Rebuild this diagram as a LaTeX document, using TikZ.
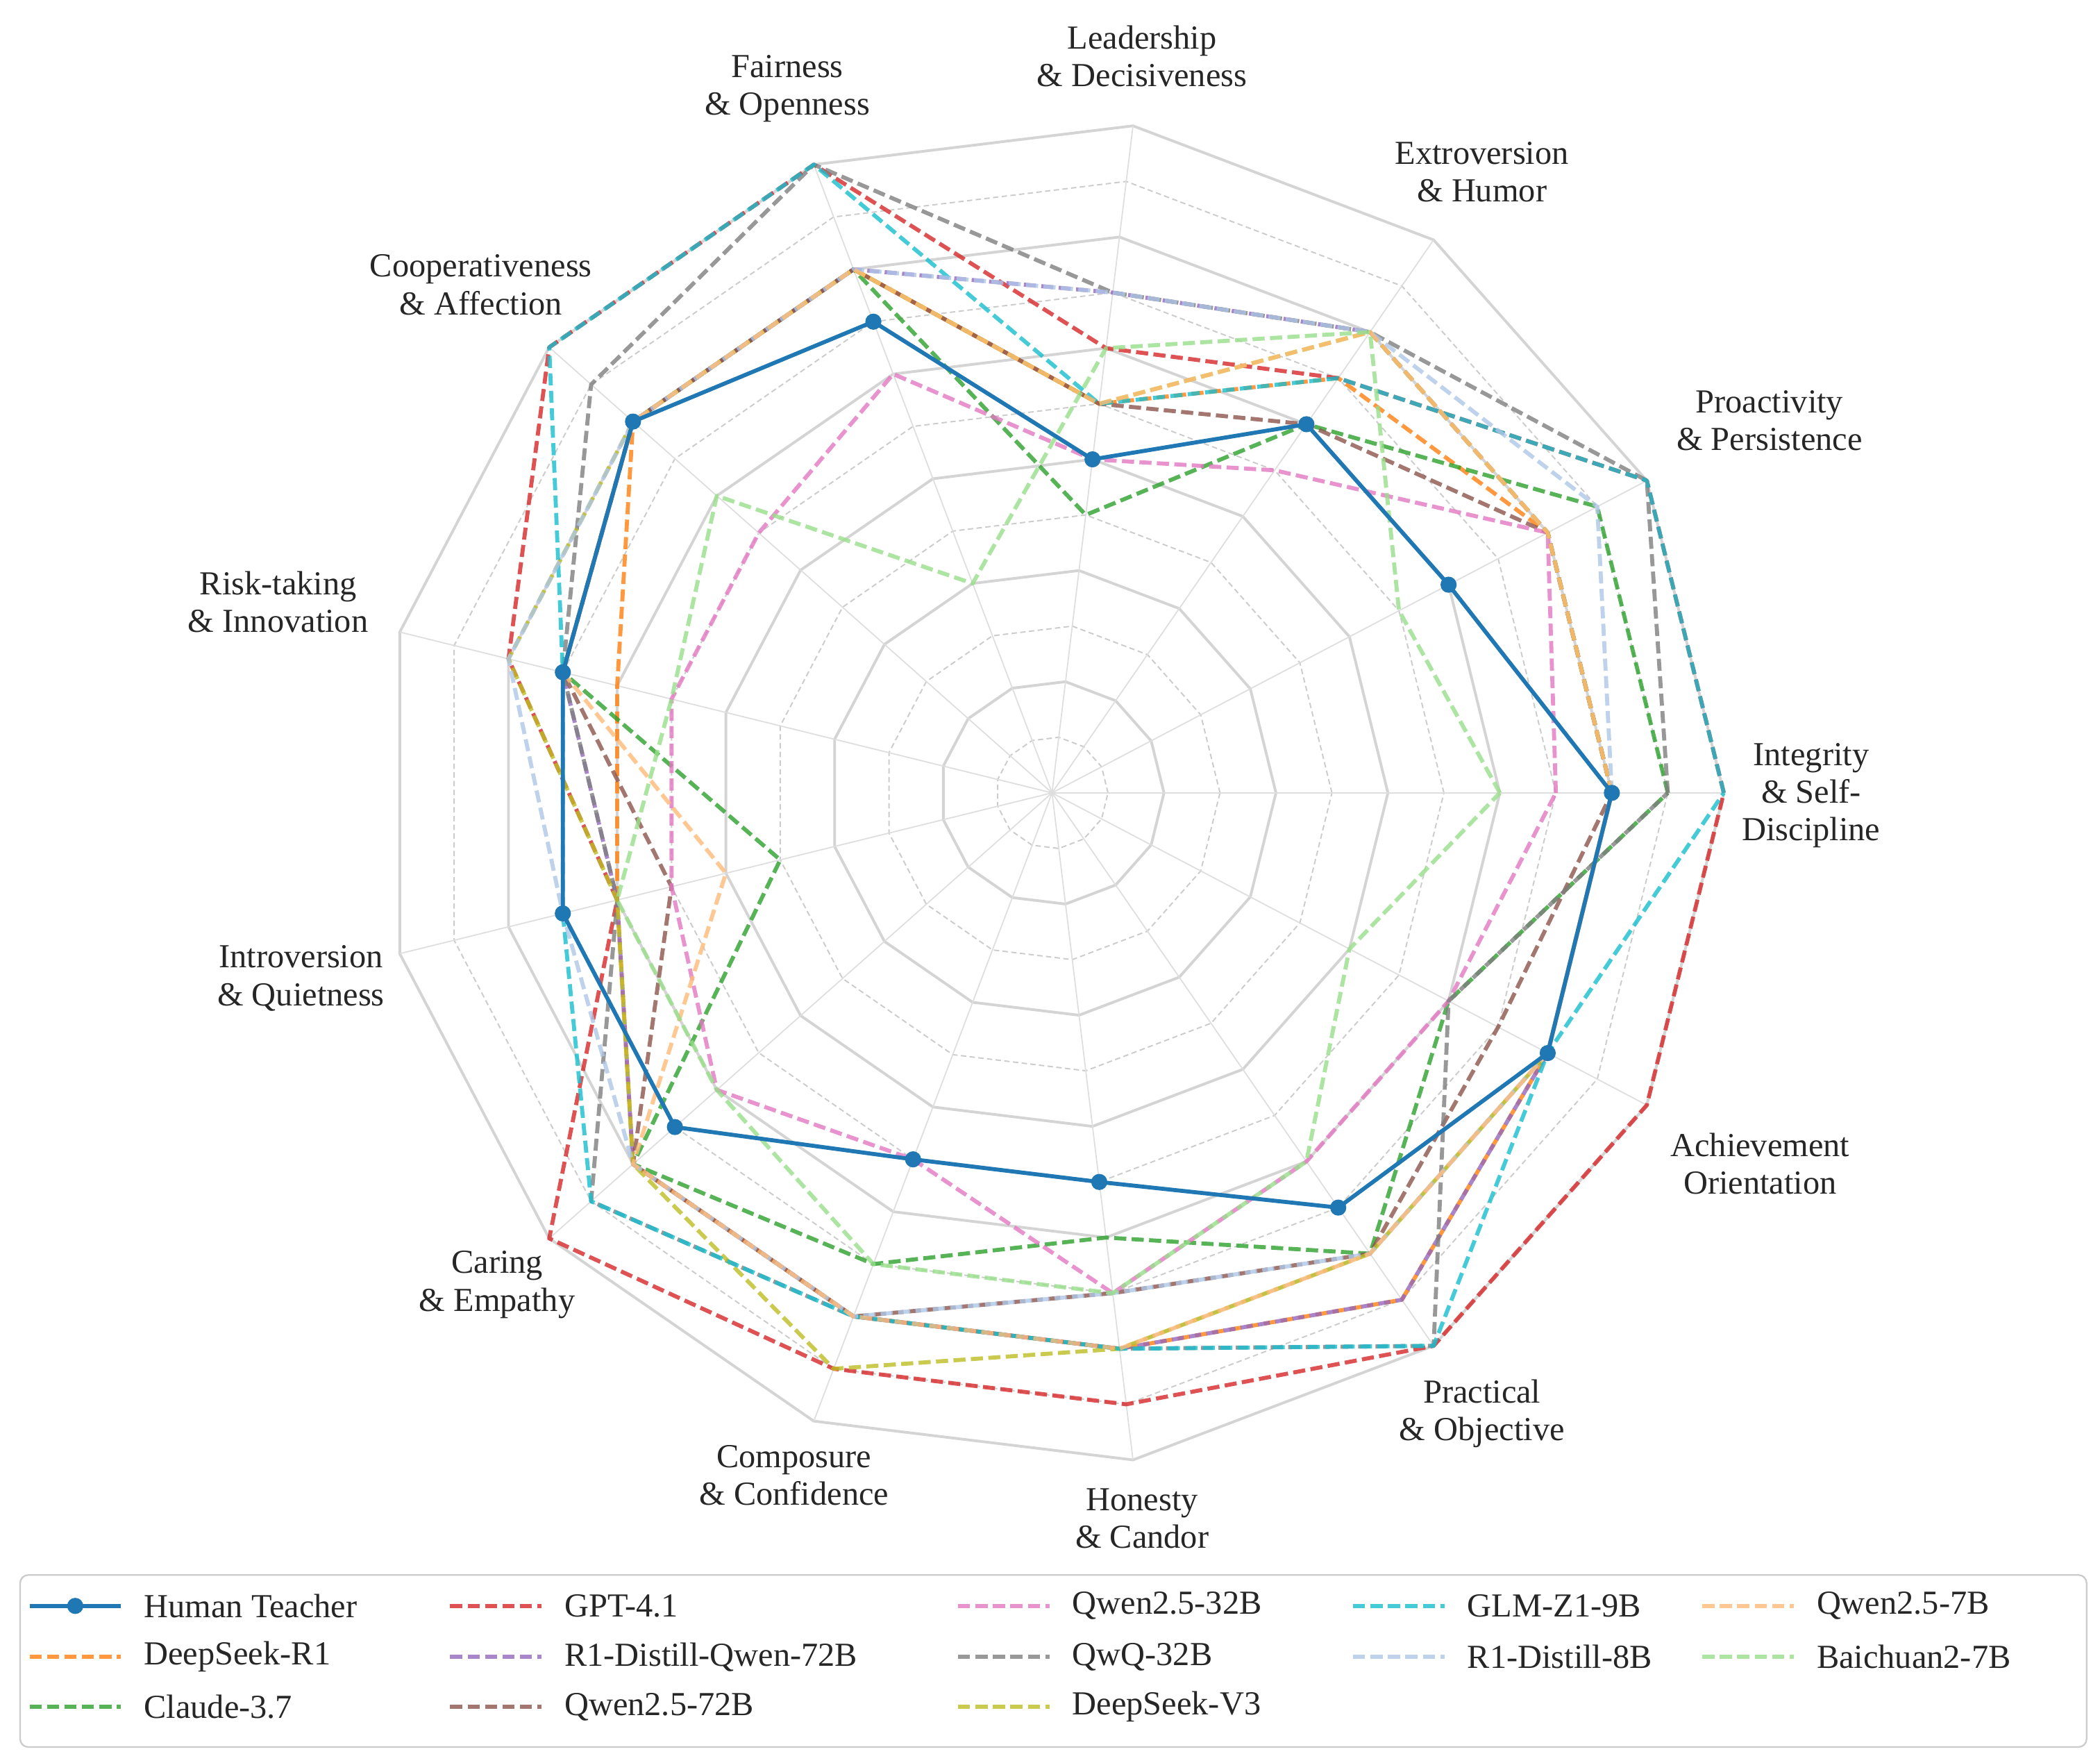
\documentclass[tikz,border=0pt]{standalone}
\usepackage{fontspec}
\setmainfont{Liberation Serif}
\definecolor{cHum}{HTML}{1F77B4}
\definecolor{cDSR}{HTML}{FF7F0E}
\definecolor{cCla}{HTML}{2CA02C}
\definecolor{cGPT}{HTML}{D62728}
\definecolor{cR72}{HTML}{9467BD}
\definecolor{cQ72}{HTML}{8C564B}
\definecolor{cQ32}{HTML}{E377C2}
\definecolor{cQwQ}{HTML}{7F7F7F}
\definecolor{cDV3}{HTML}{BCBD22}
\definecolor{cGLM}{HTML}{17BECF}
\definecolor{cR8}{HTML}{AEC7E8}
\definecolor{cQ7}{HTML}{FFBB78}
\definecolor{cBai}{HTML}{98DF8A}
\definecolor{txt}{HTML}{262626}
\tikzset{
  ser/.style={line width=3pt, dash pattern=on 9pt off 4pt, opacity=0.8, line join=round},
  hum/.style={line width=3pt, color=cHum, line join=round},
  ringsolid/.style={draw=black!17, line width=2pt},
  ringdash/.style={draw=black!20, line width=1pt, dash pattern=on 4pt off 2.5pt},
  spoke/.style={draw=black!13, line width=0.9pt},
  lab/.style={font=\fontsize{25}{28}\selectfont, text=txt, align=center, inner sep=0pt},
  legtxt/.style={font=\fontsize{25}{28}\selectfont, text=txt, anchor=west, inner sep=0pt},
  dot/.style={circle, fill=cHum, inner sep=0pt, minimum size=12pt}
}
\newcommand\drawseries[3]{%
  \foreach \v [count=\i from 0] in {#3} {\coordinate (#1-\i) at ({\i*360/13}:{\v*500/12});}
  \draw[#2] (#1-0) -- (#1-1) -- (#1-2) -- (#1-3) -- (#1-4) -- (#1-5) -- (#1-6) -- (#1-7) -- (#1-8) -- (#1-9) -- (#1-10) -- (#1-11) -- (#1-12) -- cycle;
}
\begin{document}
\begin{tikzpicture}[x=1pt,y=1pt]
\useasboundingbox (0,0) rectangle (1563,1311.6);
\fill[white] (0,0) rectangle (1563,1311.6);
\begin{scope}[shift={(783,721.6)}]
  % grid
  \foreach \k in {1,3,...,11} {
    \draw[ringdash] (0:{\k*500/12}) \foreach \j in {1,...,12}{ -- ({\j*360/13}:{\k*500/12})} -- cycle;
  }
  \foreach \k in {2,4,...,12} {
    \draw[ringsolid] (0:{\k*500/12}) \foreach \j in {1,...,12}{ -- ({\j*360/13}:{\k*500/12})} -- cycle;
  }
  \foreach \j in {0,...,12} { \draw[spoke] (0,0) -- ({\j*360/13}:500); }
  % series: I, P, E, L, F, C, R, In, Ca, Co, H, Pr, A
  \drawseries{dsr}{ser,cDSR}{10,10,9,7,10,10,8,8,10,10,10,11,10}
  \drawseries{cla}{ser,cCla}{11,11,8,5,10,10,9,5,10,9,8,10,8}
  \drawseries{gpt}{ser,cGPT}{12,12,9,8,12,12,10,8,12,11,11,12,12}
  \drawseries{r72}{ser,cR72}{10,10,10,9,10,10,9,8,10,10,10,11,10}
  \drawseries{q72}{ser,cQ72}{10,10,8,7,10,10,9,7,10,10,9,10,9}
  \drawseries{q32}{ser,cQ32}{9,10,7,6,8,7,7,7,8,7,9,8,8}
  \drawseries{qwq}{ser,cQwQ}{11,12,10,9,12,11,9,8,11,10,10,12,8}
  \drawseries{dv3}{ser,cDV3}{10,10,10,7,10,10,10,8,10,11,10,10,10}
  \drawseries{glm}{ser,cGLM}{12,12,9,7,12,12,9,9,11,10,10,12,10}
  \drawseries{r8}{ser,cR8}{10,11,10,9,10,10,10,9,10,10,9,10,10}
  \drawseries{q7}{ser,cQ7}{10,10,10,7,10,10,9,6,10,10,10,10,10}
  \drawseries{bai}{ser,cBai}{8,7,10,8,4,8,7,8,8,9,9,8,6}
  \drawseries{hum}{hum}{10,8,8,6,9,10,9,9,9,7,7,9,10}
  \foreach \i in {0,...,12} { \node[dot] (hd-\i) at (hum-\i) {}; }
\end{scope}
% axis labels
\node[lab] (l0) at (1348,719.6) {Integrity\\\& Self-\\Discipline};
\node[lab] (l1) at (1317,998.6) {Proactivity\\\& Persistence};
\node[lab] (l2) at (1103,1183.6) {Extroversion\\\& Humor};
\node[lab] (l3) at (850,1269.6) {Leadership\\\& Decisiveness};
\node[lab] (l4) at (586,1245.6) {Fairness\\\& Openness};
\node[lab] (l5) at (358,1099.6) {Cooperativeness\\\& Affection};
\node[lab] (l6) at (207,863.6) {Risk-taking\\\& Innovation};
\node[lab] (l7) at (224,583.6) {Introversion\\\& Quietness};
\node[lab] (l8) at (370,355.6) {Caring\\\& Empathy};
\node[lab] (l9) at (591,213.6) {Composure\\\& Confidence};
\node[lab] (l10) at (850,181.6) {Honesty\\\& Candor};
\node[lab] (l11) at (1103,259.6) {Practical\\\& Objective};
\node[lab] (l12) at (1310,445.6) {Achievement\\Orientation};
% legend
\node[draw=black!20, line width=1.2pt, rounded corners=6pt, minimum width=1538pt, minimum height=128pt, inner sep=0pt] (legbox) at (784,75.6) {};
\newcommand\legitem[5]{% name, x, y, style, text
  \coordinate (#1a) at (#2,#3); \coordinate (#1b) at (#2+68,#3);
  \draw[#4] (#1a) -- (#1b);
  \node[legtxt] (#1t) at (#2+85,#3) {#5};
}
\legitem{Lhum}{22}{116.6}{hum}{Human Teacher}
\node[dot] (Lhumd) at (56,116.6) {};
\legitem{Ldsr}{22}{78.6}{ser,cDSR}{DeepSeek-R1}
\legitem{Lcla}{22}{41.6}{ser,cCla}{Claude-3.7}
\legitem{Lgpt}{335}{116.6}{ser,cGPT}{GPT-4.1}
\legitem{Lr72}{335}{78.6}{ser,cR72}{R1-Distill-Qwen-72B}
\legitem{Lq72}{335}{41.6}{ser,cQ72}{Qwen2.5-72B}
\legitem{Lq32}{713}{116.6}{ser,cQ32}{Qwen2.5-32B}
\legitem{Lqwq}{713}{78.6}{ser,cQwQ}{QwQ-32B}
\legitem{Ldv3}{713}{41.6}{ser,cDV3}{DeepSeek-V3}
\legitem{Lglm}{1007}{116.6}{ser,cGLM}{GLM-Z1-9B}
\legitem{Lr8}{1007}{78.6}{ser,cR8}{R1-Distill-8B}
\legitem{Lq7}{1267}{116.6}{ser,cQ7}{Qwen2.5-7B}
\legitem{Lbai}{1267}{78.6}{ser,cBai}{Baichuan2-7B}
\end{tikzpicture}
\end{document}
